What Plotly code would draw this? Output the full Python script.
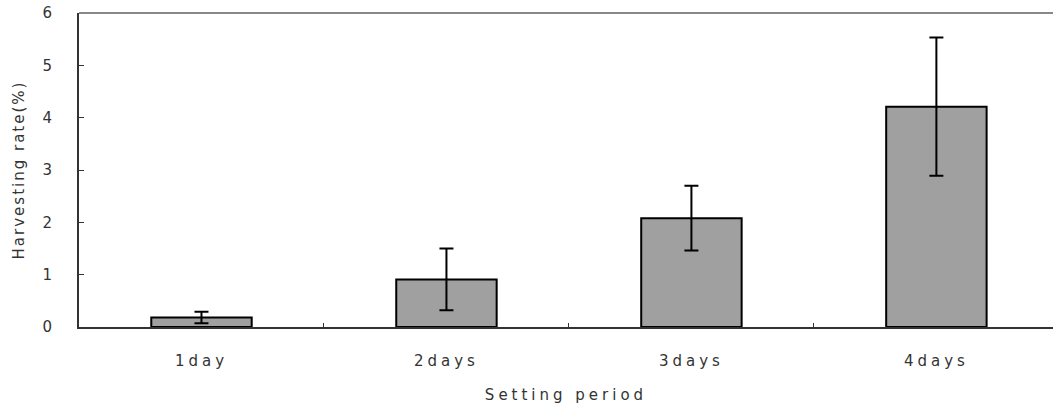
import plotly.graph_objects as go

categories = ["1day", "2days", "3days", "4days"]
values = [0.18, 0.91, 2.08, 4.21]
errors = [0.11, 0.59, 0.62, 1.32]
y_ticks = [0, 1, 2, 3, 4, 5, 6]

FONT = "DejaVu Sans"
TXT = "#333333"

fig = go.Figure()
fig.add_trace(go.Bar(
    x=categories, y=values, width=0.41,
    marker=dict(color="#a0a0a0", line=dict(color="black", width=2)),
    error_y=dict(type="data", array=errors, visible=True, color="black", thickness=2, width=7),
))

fig.update_layout(
    width=1053, height=408,
    margin=dict(l=79, r=0, t=13, b=81),
    plot_bgcolor="white", paper_bgcolor="white",
    showlegend=False,
    font=dict(family=FONT, size=15, color=TXT),
    xaxis=dict(
        range=[-0.5, 3.476], automargin=False,
        showline=True, linecolor="#333333", linewidth=2,
        ticks="inside", ticklen=4, tickcolor="#333333",
        tickson="boundaries", showgrid=False,
        ticklabelstandoff=19,
        title=dict(text="Setting period", font=dict(family=FONT, size=15, color=TXT), standoff=20),
        tickfont=dict(family=FONT, size=15, color=TXT),
    ),
    yaxis=dict(
        range=[0, 6], tickvals=y_ticks, automargin=False,
        showline=True, linecolor="#333333", linewidth=2,
        ticks="inside", ticklen=5, tickcolor="#333333",
        showgrid=False, zeroline=False,
        ticklabelstandoff=20,
        title=dict(text="Harvesting rate(%)", font=dict(family=FONT, size=15, color=TXT), standoff=16),
        tickfont=dict(family=FONT, size=15, color=TXT),
    ),
)
fig.add_shape(type="line", xref="paper", yref="paper", x0=0, x1=1, y0=1, y1=1,
              line=dict(color="#888888", width=2))

post = """
var s = document.createElement('style');
s.textContent = 'html, body { margin: 0; padding: 0; overflow: hidden; }'
  + ' .main-svg text { letter-spacing: 2px; }'
  + ' .main-svg .xtick text, .main-svg .g-xtitle text { letter-spacing: 4px; }';
document.head.appendChild(s);
"""
fig.write_html("out.html", post_script=post, config={"displayModeBar": False})
